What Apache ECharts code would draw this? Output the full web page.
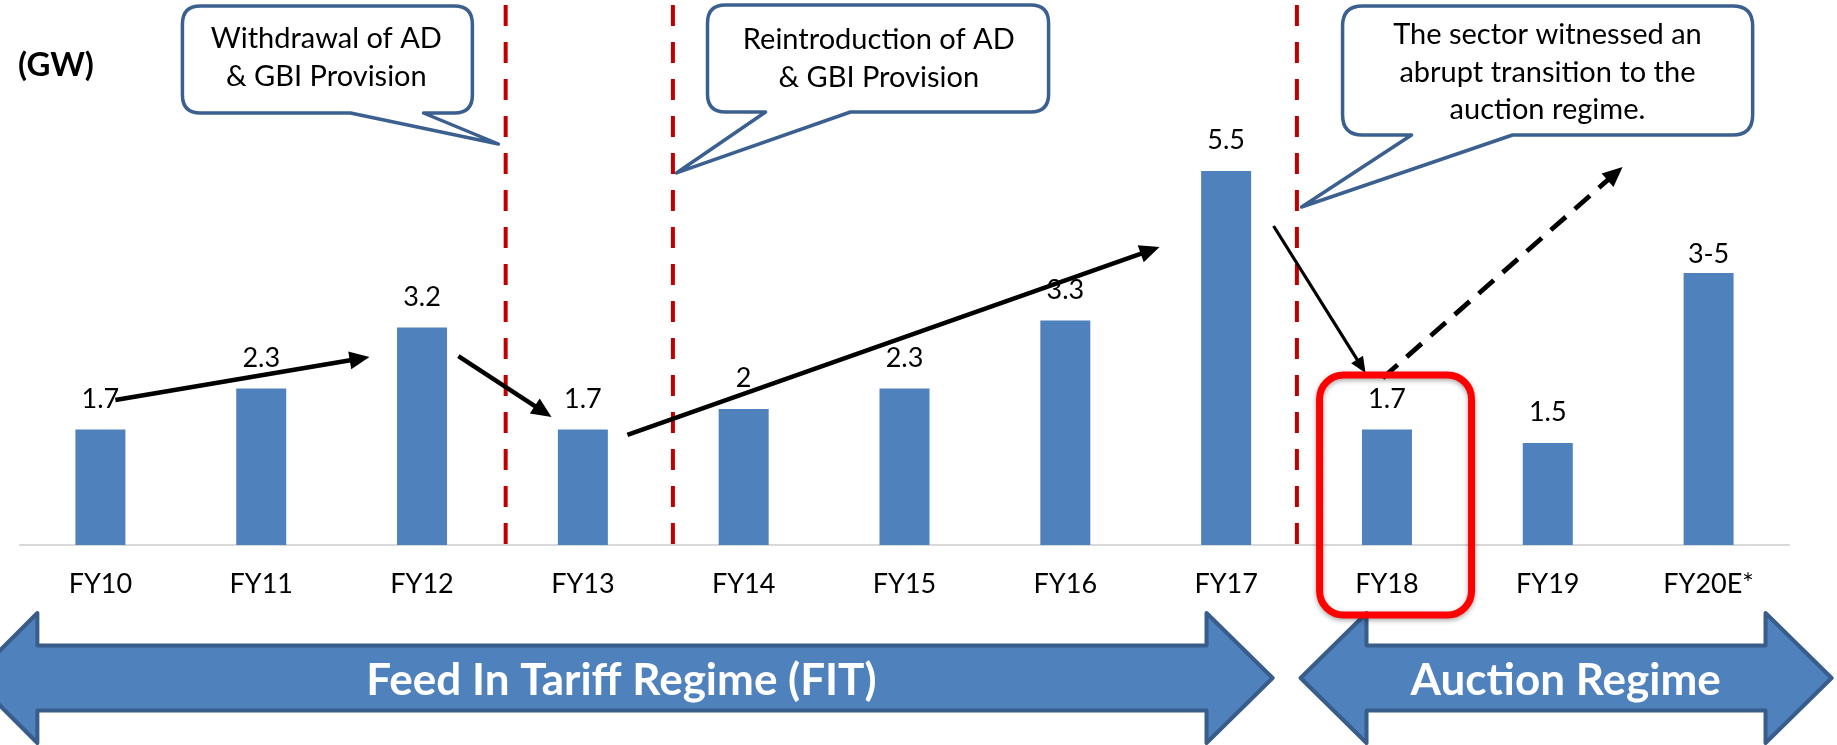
<!DOCTYPE html>
<html>
<head>
<meta charset="utf-8">
<script src="https://cdn.jsdelivr.net/npm/echarts@6/dist/echarts.min.js"></script>
<style>
  html, body { margin: 0; padding: 0; background: #fff; }
  #chart { width: 1837px; height: 745px; }
</style>
</head>
<body>
<div id="chart"></div>
<script>
// ---------------- data ----------------
const categories = ['FY10', 'FY11', 'FY12', 'FY13', 'FY14', 'FY15', 'FY16', 'FY17', 'FY18', 'FY19', 'FY20E*'];
const capacityGW = [1.7, 2.3, 3.2, 1.7, 2.0, 2.3, 3.3, 5.5, 1.7, 1.5, 4.0];
const valueLabels = ['1.7', '2.3', '3.2', '1.7', '2', '2.3', '3.3', '5.5', '1.7', '1.5', '3-5'];
const unitLabel = '(GW)';

// annotation texts
const callout1Text = 'Withdrawal of AD\n& GBI Provision';
const callout2Text = 'Reintroduction of AD\n& GBI Provision';
const callout3Text = 'The sector witnessed an\nabrupt transition to the\nauction regime.';
const fitText = 'Feed In Tariff Regime (FIT)';
const auctionText = 'Auction Regime';

// annotation geometry in data coordinates (x = category index, y = GW)
const dividerX = [2.52, 3.56, 7.44];
const dividerSpan = [7.94, -0.04];

const callouts = [
  { box: [0.51, 2.313, 7.926, 6.353], notch: [1.555, 2.009], tip: [2.475, 5.897], r: 18, text: callout1Text, textAt: [1.405, 7.16], lh: 38 },
  { box: [3.775, 5.896, 7.941, 6.368], notch: [4.136, 4.664], tip: [3.582, 5.471], r: 18, text: callout2Text, textAt: [4.84, 7.15], lh: 38 },
  { box: [7.724, 10.274, 7.926, 6.029], notch: [8.153, 8.781], tip: [7.469, 4.971], r: 20, text: callout3Text, textAt: [8.998, 6.947], lh: 37.5 }
];

const trendArrows = [
  { from: [0.093, 2.132], to: [1.673, 2.765], w: 4.5, dashed: false },
  { from: [2.226, 2.779], to: [2.805, 1.882], w: 4.5, dashed: false },
  { from: [3.277, 1.618], to: [6.586, 4.382], w: 4.5, dashed: false },
  { from: [7.295, 4.691], to: [7.867, 2.529], w: 3.2, dashed: false },
  { from: [7.973, 2.456], to: [9.465, 5.559], w: 4.8, dashed: true }
];

const banners = [
  { x: [-0.796, -0.392, 6.878, 7.289], y: [-1.0, -1.478, -1.956, -2.434, -2.912], text: fitText, textAt: [3.24, -1.995] },
  { x: [7.463, 7.873, 10.354, 10.765], y: [-1.0, -1.478, -1.956, -2.434, -2.912], text: auctionText, textAt: [9.111, -1.995] }
];

const highlightBox = [7.581, 8.526, 2.5, -1.029];

// ---------------- rendering ----------------
const FONT = 'Lato, "Open Sans", sans-serif';
const chart = echarts.init(document.getElementById('chart'), null, { renderer: 'canvas' });

function calloutPath(x0, x1, yT, yB, r, nL, nR, tx, ty) {
  return [
    'M', x0 + r, yT, 'L', x1 - r, yT, 'Q', x1, yT, x1, yT + r,
    'L', x1, yB - r, 'Q', x1, yB, x1 - r, yB,
    'L', nR, yB, 'L', tx, ty, 'L', nL, yB,
    'L', x0 + r, yB, 'Q', x0, yB, x0, yB - r,
    'L', x0, yT + r, 'Q', x0, yT, x0 + r, yT, 'Z'
  ].join(' ');
}

function renderAnnotations(params, api) {
  const P = (x, y) => api.coord([x, y]);
  const children = [];

  // dividers
  dividerX.forEach(x => {
    const a = P(x, dividerSpan[0]), b = P(x, dividerSpan[1]);
    children.push({
      type: 'line', shape: { x1: a[0], y1: a[1], x2: b[0], y2: b[1] },
      style: { stroke: '#C00000', lineWidth: 4, lineDash: [21, 16] }
    });
  });

  // callouts
  callouts.forEach(c => {
    const tl = P(c.box[0], c.box[2]), br = P(c.box[1], c.box[3]);
    const nl = P(c.notch[0], c.box[3]), nr = P(c.notch[1], c.box[3]);
    const tip = P(c.tip[0], c.tip[1]);
    children.push({
      type: 'path',
      shape: { pathData: calloutPath(tl[0], br[0], tl[1], br[1], c.r, nl[0], nr[0], tip[0], tip[1]) },
      style: { fill: '#fff', stroke: '#3B6090', lineWidth: 3.5, lineJoin: 'round' }
    });
    const tp = P(c.textAt[0], c.textAt[1]);
    children.push({
      type: 'text', x: tp[0], y: tp[1],
      style: { text: c.text, fill: '#000', font: '29px ' + FONT, align: 'center', verticalAlign: 'middle', lineHeight: c.lh }
    });
  });

  // arrows
  trendArrows.forEach(a => {
    const p0 = P(a.from[0], a.from[1]), p1 = P(a.to[0], a.to[1]);
    const dx = p1[0] - p0[0], dy = p1[1] - p0[1], L = Math.hypot(dx, dy);
    const ux = dx / L, uy = dy / L, nx = -uy, ny = ux;
    const hl = a.w > 4 ? 20 : 16, hw = a.w > 4 ? 9 : 7;
    const bx = p1[0] - ux * hl, by = p1[1] - uy * hl;
    children.push({
      type: 'line', shape: { x1: p0[0], y1: p0[1], x2: bx + ux * 2, y2: by + uy * 2 },
      style: { stroke: '#000', lineWidth: a.w, lineDash: a.dashed ? [20, 12] : null }
    });
    children.push({
      type: 'polygon',
      shape: { points: [[p1[0], p1[1]], [bx + nx * hw, by + ny * hw], [bx - nx * hw, by - ny * hw]] },
      style: { fill: '#000' }
    });
  });

  // banners (double arrows)
  banners.forEach(b => {
    const X = b.x.map(v => P(v, 0)[0]);
    const Y = b.y.map(v => P(0, v)[1]);
    const pts = [
      [X[0], Y[2]], [X[1], Y[0]], [X[1], Y[1]], [X[2], Y[1]], [X[2], Y[0]],
      [X[3], Y[2]], [X[2], Y[4]], [X[2], Y[3]], [X[1], Y[3]], [X[1], Y[4]]
    ];
    children.push({
      type: 'polygon', shape: { points: pts },
      style: { fill: '#4F81BD', stroke: '#385D8A', lineWidth: 4, lineJoin: 'round' }
    });
    const tp = P(b.textAt[0], b.textAt[1]);
    children.push({
      type: 'text', x: tp[0], y: tp[1],
      style: { text: b.text, fill: '#fff', font: 'bold 44px ' + FONT, align: 'center', verticalAlign: 'middle' }
    });
  });

  // highlight box around FY18
  const h0 = P(highlightBox[0], highlightBox[2]), h1 = P(highlightBox[1], highlightBox[3]);
  children.push({
    type: 'rect',
    shape: { x: h0[0], y: h0[1], width: h1[0] - h0[0], height: h1[1] - h0[1], r: 24 },
    style: { fill: null, stroke: '#FF0000', lineWidth: 7, shadowBlur: 5, shadowColor: 'rgba(0,0,0,0.35)', shadowOffsetY: 2 }
  });

  return { type: 'group', children };
}

const option = {
  animation: false,
  backgroundColor: '#fff',
  title: {
    text: unitLabel, left: 13, top: 44,
    textStyle: { fontFamily: FONT, fontWeight: 'bold', fontSize: 33, color: '#000' }
  },
  grid: { left: 20, right: 48, top: 137, bottom: 200, containLabel: false },
  xAxis: [
    {
      type: 'category', data: categories, boundaryGap: true,
      axisLine: { show: true, lineStyle: { color: '#D9D9D9', width: 2 } },
      axisTick: { show: false },
      axisLabel: { fontFamily: FONT, fontSize: 27, color: '#000', margin: 26, lineHeight: 27 }
    },
    { type: 'value', min: -0.5, max: 10.5, show: false, gridIndex: 0 }
  ],
  yAxis: { type: 'value', min: 0, max: 6, show: false, splitLine: { show: false } },
  series: [
    {
      type: 'bar', xAxisIndex: 0, yAxisIndex: 0, z: 2,
      barWidth: 50,
      itemStyle: { color: '#4F81BD' },
      data: capacityGW.map((v, i) => ({
        value: v,
        label: categories[i] === 'FY20E*' ? { distance: 5 } : undefined
      })),
      label: {
        show: true, position: 'top', distance: 17,
        fontFamily: FONT, fontSize: 27, lineHeight: 27, color: '#000',
        formatter: p => valueLabels[p.dataIndex]
      }
    },
    {
      type: 'custom', xAxisIndex: 1, yAxisIndex: 0, z: 5, clip: false, silent: true,
      data: [[0, 0]],
      renderItem: renderAnnotations
    }
  ]
};
chart.setOption(option);
</script>
</body>
</html>
